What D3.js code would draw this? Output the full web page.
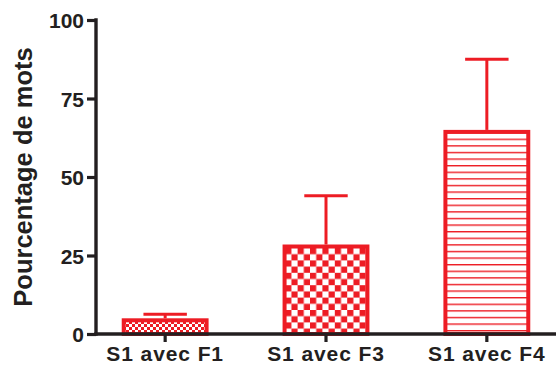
<!DOCTYPE html>
<html><head><meta charset="utf-8">
<script src="https://cdn.jsdelivr.net/npm/d3@7"></script>
<style>body{margin:0;background:#fff}svg{display:block}</style>
</head><body>
<svg id="c" width="556" height="367"></svg>
<script>
const categories = ["S1 avec F1", "S1 avec F3", "S1 avec F4"];
const means = [5, 28.5, 65];
const upperErr = [6.3, 44, 87.5];
const yTicks = [0, 25, 50, 75, 100];
const patterns = ["checkSmall", "checkBig", "hlines"];

const red = "#ed1c24", ink = "#231f20";
const svg = d3.select("#c");
const m = {left: 96, right: 0, top: 20, bottom: 33};
const W = 556, H = 367;
const x = d3.scaleBand().domain(categories).range([m.left, W - m.right]).paddingInner(0.46).paddingOuter(0.16);
const y = d3.scaleLinear().domain([0, 100]).range([H - m.bottom, m.top]);

const defs = svg.append("defs");
function checker(id, s) {
  const p = defs.append("pattern").attr("id", id).attr("patternUnits", "userSpaceOnUse")
    .attr("width", 2 * s).attr("height", 2 * s);
  p.append("rect").attr("width", 2 * s).attr("height", 2 * s).attr("fill", "#fff");
  p.append("rect").attr("width", s).attr("height", s).attr("fill", red);
  p.append("rect").attr("x", s).attr("y", s).attr("width", s).attr("height", s).attr("fill", red);
}
checker("checkSmall", 3);
checker("checkBig", 6.2);
const hl = defs.append("pattern").attr("id", "hlines").attr("patternUnits", "userSpaceOnUse")
  .attr("width", 10).attr("height", 6.6);
hl.append("rect").attr("width", 10).attr("height", 6.6).attr("fill", "#fff");
hl.append("rect").attr("y", 0).attr("width", 10).attr("height", 1.4).attr("fill", red);

const g = svg.append("g");
categories.forEach((c, i) => {
  const cx = x(c) + x.bandwidth() / 2;
  const cw = x.bandwidth() / 2;
  g.append("line").attr("x1", cx).attr("x2", cx).attr("y1", y(means[i])).attr("y2", y(upperErr[i]))
    .attr("stroke", red).attr("stroke-width", 3);
  g.append("line").attr("x1", cx - cw / 2).attr("x2", cx + cw / 2).attr("y1", y(upperErr[i])).attr("y2", y(upperErr[i]))
    .attr("stroke", red).attr("stroke-width", 3);
});
g.selectAll("rect.bar").data(categories).join("rect").attr("class", "bar")
  .attr("x", d => x(d) + 2).attr("width", x.bandwidth() - 4)
  .attr("y", (d, i) => y(means[i]) + 2).attr("height", (d, i) => y(0) - y(means[i]) - 2)
  .attr("fill", (d, i) => `url(#${patterns[i]})`)
  .attr("stroke", red).attr("stroke-width", 4);

const font = "'Liberation Sans', Arial, Helvetica, sans-serif";
const yAx = svg.append("g").attr("transform", `translate(${m.left},0)`)
  .call(d3.axisLeft(y).tickValues(yTicks).tickSize(9).tickPadding(3).tickSizeOuter(0));
const xAx = svg.append("g").attr("transform", `translate(0,${y(0)})`)
  .call(d3.axisBottom(x).tickSize(8).tickPadding(3).tickSizeOuter(0));
[yAx, xAx].forEach(a => {
  a.attr("font-family", font).attr("font-weight", "bold");
  a.select(".domain").attr("stroke", ink).attr("stroke-width", 3.4);
  a.selectAll(".tick line").attr("stroke", ink).attr("stroke-width", 3.2);
  a.selectAll("text").attr("fill", ink);
});
yAx.attr("font-size", 21);
yAx.selectAll("text").attr("dy", "0.36em");
xAx.attr("font-size", 21);
xAx.selectAll("text").attr("letter-spacing", "0.9").attr("dy", "0.78em");
yAx.select(".domain").attr("d", `M0,${y(100) - 1.7}V${y(0) + 1.7}`);
xAx.select(".domain").attr("d", `M${m.left - 1.7},0H${W}`);

svg.append("text").attr("transform", `translate(32,${(y(0) + y(100)) / 2}) rotate(-90)`)
  .attr("text-anchor", "middle").attr("fill", ink)
  .attr("font-family", font).attr("font-weight", "bold").attr("font-size", 25.5)
  .text("Pourcentage de mots");
</script>
</body></html>
